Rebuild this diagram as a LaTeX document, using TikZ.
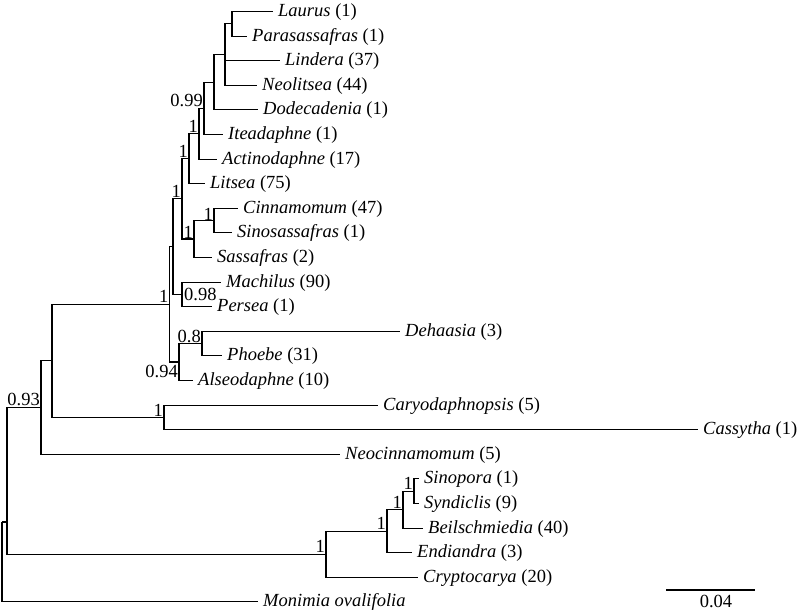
\documentclass[tikz,border=0pt]{standalone}
\usepackage{fontspec}
\setmainfont{Liberation Serif}
\newcommand\treefont{\fontsize{18.5}{22}\selectfont}
\begin{document}
\begin{tikzpicture}[x=1pt,y=-1pt,
  br/.style={line width=1.1pt},
  leaf/.style={anchor=west, inner xsep=5pt, inner ysep=0pt, text height=14pt, text depth=4pt, font=\treefont},
  lab/.style={anchor=base east, inner sep=0pt, font=\treefont},
  labr/.style={anchor=base west, inner sep=0pt, font=\treefont}]
\useasboundingbox (0,0) rectangle (800,613);
% internal nodes
\coordinate (root) at (2,522);
\coordinate (n7) at (7,522);
\coordinate (n41) at (41,407.6);
\coordinate (n52) at (52,360.9);
\coordinate (core) at (169.5,304.3);
\coordinate (nH) at (173,246.6);
\coordinate (nG) at (182,198.9);
\coordinate (nF) at (189,158.7);
\coordinate (nE) at (199,133.7);
\coordinate (nD) at (204,108.4);
\coordinate (nC) at (214,82.2);
\coordinate (nB) at (225,54.6);
\coordinate (nA) at (232,23.8);
\coordinate (nCSS) at (194,239);
\coordinate (nCS) at (214,220.6);
\coordinate (nMP) at (182,294.4);
\coordinate (nDPA) at (179,362);
\coordinate (nDP) at (202,343.6);
\coordinate (nCC) at (164,417.4);
\coordinate (nLow) at (326,554.2);
\coordinate (nSSBE) at (387,531.2);
\coordinate (nSSB) at (403,509.6);
\coordinate (nSS) at (414,491.2);
% leaves
\node[leaf] (laurus) at (273,11.5) {\textit{Laurus} (1)};
\node[leaf] (paras) at (247,36.1) {\textit{Parasassafras} (1)};
\node[leaf] (lindera) at (280,60.7) {\textit{Lindera} (37)};
\node[leaf] (neolitsea) at (257,85.3) {\textit{Neolitsea} (44)};
\node[leaf] (dodec) at (258,109.9) {\textit{Dodecadenia} (1)};
\node[leaf] (itea) at (223,134.5) {\textit{Iteadaphne} (1)};
\node[leaf] (actino) at (217,159.1) {\textit{Actinodaphne} (17)};
\node[leaf] (litsea) at (205,183.7) {\textit{Litsea} (75)};
\node[leaf] (cinn) at (238,208.3) {\textit{Cinnamomum} (47)};
\node[leaf] (sino) at (232,232.9) {\textit{Sinosassafras} (1)};
\node[leaf] (sass) at (212,257.5) {\textit{Sassafras} (2)};
\node[leaf] (mach) at (221,282.1) {\textit{Machilus} (90)};
\node[leaf] (persea) at (212,306.7) {\textit{Persea} (1)};
\node[leaf] (dehaasia) at (400,331.3) {\textit{Dehaasia} (3)};
\node[leaf] (phoebe) at (222,355.9) {\textit{Phoebe} (31)};
\node[leaf] (alseo) at (193,380.5) {\textit{Alseodaphne} (10)};
\node[leaf] (caryo) at (378,405.1) {\textit{Caryodaphnopsis} (5)};
\node[leaf] (cassytha) at (698,429.7) {\textit{Cassytha} (1)};
\node[leaf] (neocin) at (340,454.3) {\textit{Neocinnamomum} (5)};
\node[leaf] (sinopora) at (419,478.9) {\textit{Sinopora} (1)};
\node[leaf] (syndiclis) at (419,503.5) {\textit{Syndiclis} (9)};
\node[leaf] (beil) at (423,528.1) {\textit{Beilschmiedia} (40)};
\node[leaf] (endi) at (412,552.7) {\textit{Endiandra} (3)};
\node[leaf] (crypto) at (418,577.3) {\textit{Cryptocarya} (20)};
\node[leaf] (monimia) at (258,601.9) {\textit{Monimia ovalifolia}};
% branches
\draw[br] (nA) |- (laurus.west);
\draw[br] (nA) |- (paras.west);
\draw[br] (nB) |- (nA);
\draw[br] (nB) |- (lindera.west);
\draw[br] (nB) |- (neolitsea.west);
\draw[br] (nC) |- (nB);
\draw[br] (nC) |- (dodec.west);
\draw[br] (nD) |- (nC);
\draw[br] (nD) |- (itea.west);
\draw[br] (nE) |- (nD);
\draw[br] (nE) |- (actino.west);
\draw[br] (nF) |- (nE);
\draw[br] (nF) |- (litsea.west);
\draw[br] (nCS) |- (cinn.west);
\draw[br] (nCS) |- (sino.west);
\draw[br] (nCSS) |- (nCS);
\draw[br] (nCSS) |- (sass.west);
\draw[br] (nG) |- (nF);
\draw[br] (nG) |- (nCSS);
\draw[br] (nMP) |- (mach.west);
\draw[br] (nMP) |- (persea.west);
\draw[br] (nH) |- (nG);
\draw[br] (nH) |- (nMP);
\draw[br] (nDP) |- (dehaasia.west);
\draw[br] (nDP) |- (phoebe.west);
\draw[br] (nDPA) |- (nDP);
\draw[br] (nDPA) |- (alseo.west);
\draw[br] (core) |- (nH);
\draw[br] (core) |- (nDPA);
\draw[br] (nCC) |- (caryo.west);
\draw[br] (nCC) |- (cassytha.west);
\draw[br] (n52) |- (core);
\draw[br] (n52) |- (nCC);
\draw[br] (n41) |- (n52);
\draw[br] (n41) |- (neocin.west);
\draw[br] (nSS) |- (sinopora.west);
\draw[br] (nSS) |- (syndiclis.west);
\draw[br] (nSSB) |- (nSS);
\draw[br] (nSSB) |- (beil.west);
\draw[br] (nSSBE) |- (nSSB);
\draw[br] (nSSBE) |- (endi.west);
\draw[br] (nLow) |- (nSSBE);
\draw[br] (nLow) |- (crypto.west);
\draw[br] (n7) |- (n41);
\draw[br] (n7) |- (nLow);
\draw[br] (root) |- (n7);
\draw[br] (root) |- (monimia.west);
% support values
\node[lab] (sD) at ([xshift=-1pt,yshift=1.5pt]nD) {0.99};
\node[lab] (sE) at ([xshift=-1pt,yshift=1.5pt]nE) {1};
\node[lab] (sF) at ([xshift=-1pt,yshift=1.5pt]nF) {1};
\node[lab] (sG) at ([xshift=-1pt,yshift=1.5pt]nG) {1};
\node[lab] (sCS) at ([xshift=-1pt,yshift=0pt]nCS) {1};
\node[lab] (sCSS) at ([xshift=-1pt,yshift=0.5pt]nCSS) {1};
\node[labr] (sMP) at ([xshift=2pt,yshift=-5.6pt]nMP) {0.98};
\node[lab] (sDP) at ([xshift=-1pt,yshift=1.5pt]nDP) {0.8};
\node[lab] (sDPA) at ([xshift=-1pt,yshift=-15pt]nDPA) {0.94};
\node[lab] (score) at ([xshift=-1pt,yshift=1.5pt]core) {1};
\node[lab] (sCC) at ([xshift=-1pt,yshift=1pt]nCC) {1};
\node[lab] (s41) at ([xshift=-1pt,yshift=2.5pt]n41) {0.93};
\node[lab] (sLow) at ([xshift=-1pt,yshift=1.5pt]nLow) {1};
\node[lab] (sSSBE) at ([xshift=-1pt,yshift=1.5pt]nSSBE) {1};
\node[lab] (sSSB) at ([xshift=-1pt,yshift=1pt]nSSB) {1};
\node[lab] (sSS) at ([xshift=-1pt,yshift=1.5pt]nSS) {1};
% scale bar
\coordinate (sb1) at (666,590);
\coordinate (sb2) at (755,590);
\draw[br] (sb1) -- (sb2);
\node[anchor=base, inner sep=0pt, font=\treefont] (sblab) at (716,607) {0.04};
\end{tikzpicture}
\end{document}
